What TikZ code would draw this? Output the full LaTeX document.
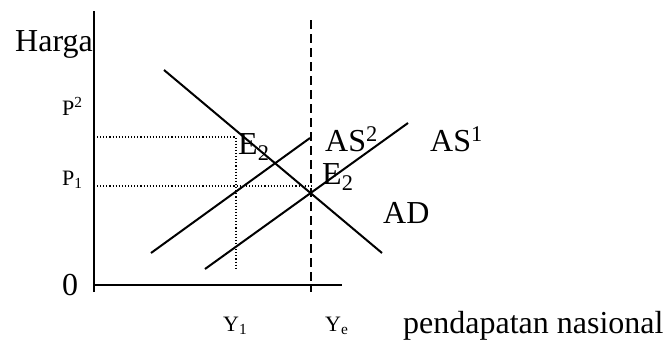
\documentclass[tikz,border=0pt]{standalone}
\usepackage{fontspec}
\setmainfont{Liberation Serif}
\usetikzlibrary{positioning}

\begin{document}
\begin{tikzpicture}[
  x=1pt, y=-1pt,
  axis/.style={line width=2.4pt},
  curve/.style={line width=2pt},
  guide/.style={line width=1.1pt, dotted},
  fullemp/.style={line width=2pt, dash pattern=on 9pt off 5pt},
  biglabel/.style={anchor=base west, inner sep=0pt, font=\fontsize{32}{34}\selectfont},
  smalllabel/.style={anchor=base west, inner sep=0pt, font=\fontsize{22}{24}\selectfont}
]
  \useasboundingbox (0,0) rectangle (663,341);

  % axes
  \coordinate (origin) at (94,285);
  \coordinate (ytop) at (94,11);
  \coordinate (ybot) at (94,292);
  \coordinate (xend) at (342,285);
  \draw[axis] (ybot) -- (ytop);
  \draw[axis] (origin) -- (xend);

  % full employment output
  \coordinate (yetop) at (311,20);
  \coordinate (yebot) at (311,292);
  \draw[fullemp] (yetop) -- (yebot);

  % demand and supply
  \coordinate (adstart) at (164,70);
  \coordinate (adend) at (382,253);
  \coordinate (astwostart) at (151,253);
  \coordinate (astwoend) at (310,138);
  \coordinate (asonestart) at (205,269);
  \coordinate (asoneend) at (408,123);
  \draw[curve] (adstart) -- (adend);
  \draw[curve] (astwostart) -- (astwoend);
  \draw[curve] (asonestart) -- (asoneend);

  % guide lines
  \coordinate (ptwoleft) at (97,137);
  \coordinate (ptwocorner) at (236,137);
  \coordinate (yonebot) at (236,270);
  \coordinate (poneleft) at (97,186);
  \coordinate (poneright) at (311,186);
  \draw[guide] (ptwoleft) -- (ptwocorner) -- (yonebot);
  \draw[guide] (poneleft) -- (poneright);

  % labels
  \node[biglabel] (harga) at (15,51) {Harga};
  \node[smalllabel] (ptwo) at (62,115) {P\textsuperscript{2}};
  \node[smalllabel] (pone) at (62,185) {P\textsubscript{1}};
  \node[biglabel] (zero) at (62,295) {0};
  \node[biglabel] (etwoup) at (238,154) {E\textsubscript{2}};
  \node[biglabel] (etwolow) at (322,184) {E\textsubscript{2}};
  \node[biglabel] (astwo) at (325,151) {AS\textsuperscript{2}};
  \node[biglabel] (asone) at (430,151) {AS\textsuperscript{1}};
  \node[biglabel] (ad) at (383,223) {AD};
  \node[smalllabel] (yone) at (223,331) {Y\textsubscript{1}};
  \node[smalllabel] (ye) at (325,331) {Y\textsubscript{e}};
  \node[biglabel] (pendapatan) at (403,333) {pendapatan nasional};
\end{tikzpicture}
\end{document}
